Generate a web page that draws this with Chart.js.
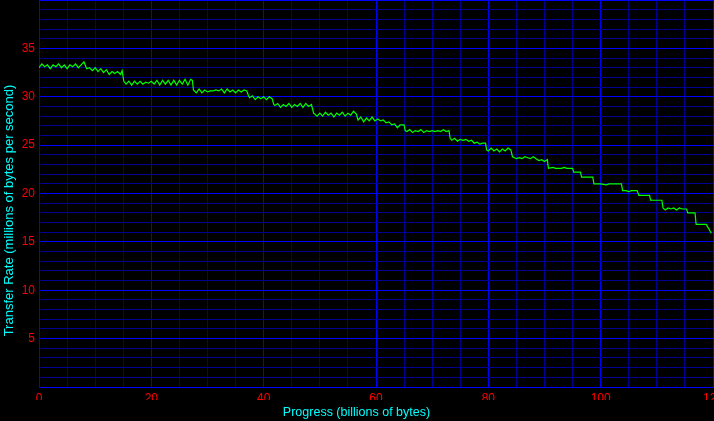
<!DOCTYPE html>
<html><head><meta charset="utf-8">
<script src="https://cdn.jsdelivr.net/npm/chart.js@4/dist/chart.umd.min.js"></script>
<style>html,body{margin:0;padding:0;background:#000;overflow:hidden}canvas{display:block}</style>
</head><body>
<canvas id="c" width="714" height="421"></canvas>
<script>
const progress = [0,0.5,1,1.5,2,2.5,3,3.5,4,4.5,5,5.5,6,6.5,7,7.5,8,8.5,9,9.5,10,10.5,11,11.5,12,12.5,13,13.5,14,14.5,14.8,
15.1,15.5,16,16.5,17,17.5,18,18.5,19,19.5,20,20.5,21,21.5,22,22.5,23,23.5,24,24.5,25,25.5,26,26.5,27,27.3,
27.5,28,28.5,29,29.5,30,30.5,31,31.5,32,32.5,33,33.5,34,34.5,35,35.5,36,36.5,37,37.3,
37.5,38,38.5,39,39.5,40,40.5,41,41.5,41.8,42,42.5,43,43.5,44,44.5,45,45.5,46,46.5,47,47.5,48,48.5,
48.9,49.5,50,50.5,51,51.5,52,52.5,53,53.5,54,54.5,55,55.5,56,56.5,
56.8,57.3,57.8,58.3,58.8,59.3,59.8,60.3,60.8,61.3,61.8,62.3,62.8,63.3,63.8,64.3,65,
65.2,65.5,66,66.5,67,67.5,68,68.5,69,69.5,70,70.5,71,71.5,72,72.5,73,
73.2,73.5,74,74.5,75,75.5,76,76.5,77,77.5,78,78.5,79,79.5,
79.7,80,80.5,81,81.5,82,82.5,83,83.5,84,
84.3,85,85.5,86,86.5,87,87.5,88,88.5,89,89.5,90,90.5,
90.7,91.5,92,93,93.5,94,95,95.2,96.4,96.6,98.6,98.8,100,101,101.5,103.7,
103.9,104.5,105,105.5,106.5,106.8,108.7,108.9,110.9,111.1,111.5,112,112.5,113,113.5,114,114.5,115.3,
115.5,116.8,117,118.8,119.1,119.5,119.7];
const rate = [33.0,33.4,33.1,33.3,32.9,33.3,33.1,33.4,33.0,33.3,32.9,33.3,33.1,33.4,33.0,33.3,33.6,32.9,33.0,32.7,33.0,32.6,32.9,32.5,32.8,32.3,32.6,32.4,32.6,32.3,32.7,
31.6,31.3,31.6,31.2,31.6,31.3,31.6,31.3,31.5,31.4,31.6,31.3,31.7,31.2,31.7,31.3,31.7,31.2,31.7,31.2,31.7,31.3,31.8,31.2,31.8,31.7,
30.7,30.4,30.8,30.4,30.7,30.5,30.6,30.6,30.7,30.6,30.8,30.4,30.8,30.5,30.7,30.4,30.7,30.5,30.7,30.6,30.1,
29.9,30.1,29.7,30.0,29.8,30.0,29.7,30.0,29.8,29.2,29.1,29.3,28.9,29.2,29.0,29.3,28.9,29.2,29.0,29.3,28.9,29.3,29.0,29.2,
28.3,28.0,28.3,28.0,28.4,28.1,28.3,27.9,28.3,28.1,28.4,28.0,28.3,28.1,28.5,28.2,
27.6,27.9,27.4,27.8,27.5,27.9,27.5,27.7,27.5,27.6,27.3,27.4,27.1,27.2,26.8,27.1,27.1,
26.5,26.4,26.6,26.3,26.5,26.4,26.6,26.3,26.5,26.4,26.5,26.4,26.5,26.4,26.6,26.4,26.5,
25.7,25.5,25.7,25.4,25.6,25.5,25.6,25.4,25.5,25.2,25.3,25.1,25.2,25.2,
24.5,24.4,24.7,24.4,24.6,24.3,24.6,24.4,24.7,24.5,
23.8,23.6,23.7,23.6,23.8,23.7,23.6,23.8,23.6,23.4,23.5,23.3,23.5,
22.6,22.7,22.6,22.6,22.7,22.6,22.6,22.2,22.2,21.7,21.7,21.0,21.0,20.9,21.0,21.0,
20.3,20.3,20.2,20.3,20.3,19.8,19.8,19.3,19.3,18.5,18.3,18.5,18.4,18.5,18.3,18.5,18.4,18.4,
18.0,18.0,16.8,16.8,16.5,16.1,15.9];
const xTickLabels = ['0','20','40','60','80','100','120'];
const yTickLabels = ['5','10','15','20','25','30','35'];
const xTitle = 'Progress (billions of bytes)';
const yTitle = 'Transfer Rate (millions of bytes per second)';

const FONT = '"Liberation Sans", Arial, sans-serif';
const MAJOR = 'rgb(0,0,255)', MINOR = 'rgb(0,0,144)';
Chart.defaults.font.family = FONT;

const points = progress.map((x, i) => ({x: x, y: rate[i]}));

const blackBg = {
  id: 'blackBg',
  beforeDraw(chart) {
    const c = chart.ctx;
    c.save(); c.fillStyle = '#000000'; c.fillRect(0, 0, chart.width, chart.height); c.restore();
  }
};

new Chart(document.getElementById('c'), {
  type: 'line',
  data: {datasets: [{data: points, borderColor: '#00ff00', borderWidth: 1.2, pointRadius: 0, tension: 0, fill: false}]},
  plugins: [blackBg],
  options: {
    responsive: false, animation: false, devicePixelRatio: 1,
    layout: {padding: {left: 0, right: 1, top: 0, bottom: 0}},
    plugins: {
      legend: {display: false}, tooltip: {enabled: false},
      title: {display: true, position: 'bottom', text: xTitle, color: '#00ffff',
              font: {size: 12.5, weight: 'normal', lineHeight: 1.2}, padding: {top: 5, bottom: 1}},
      subtitle: {display: true, position: 'left', text: yTitle, color: '#00ffff',
              font: {size: 13, weight: 'normal', lineHeight: 1.2}, padding: {top: 2, bottom: 1}}
    },
    scales: {
      x: {
        type: 'linear', min: 0, max: 120,
        afterFit(s) { s.height = 13; s.paddingLeft = 0; s.paddingRight = 0; },
        ticks: {stepSize: 5, autoSkip: false, maxRotation: 0, color: '#ff0000', padding: 4,
                font: {size: 12},
                callback: v => xTickLabels.includes(String(v)) ? String(v) : ''},
        grid: {color: c => (c.tick && c.tick.value % 20 === 0) ? MAJOR : MINOR, drawTicks: false, lineWidth: 1},
        border: {color: MAJOR, width: 1}
      },
      y: {
        min: 0, max: 40,
        afterFit(s) { s.width = 20.4; s.paddingTop = 0; s.paddingBottom = 0; },
        ticks: {stepSize: 1, autoSkip: false, color: '#ff0000', padding: 4,
                font: {size: 12},
                callback: v => yTickLabels.includes(String(v)) ? String(v) : ''},
        grid: {color: c => (c.tick && c.tick.value % 5 === 0) ? MAJOR : MINOR, drawTicks: false, lineWidth: 1},
        border: {color: MAJOR, width: 1}
      }
    }
  }
});
</script>
</body></html>
